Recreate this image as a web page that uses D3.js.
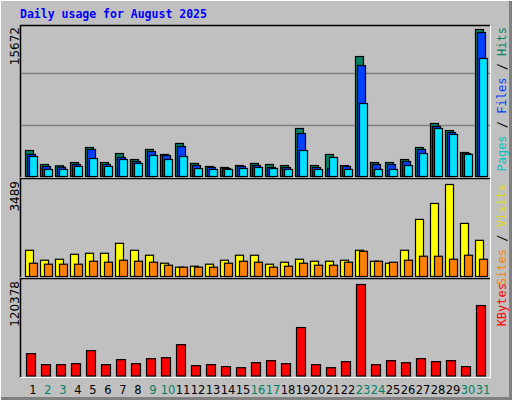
<!DOCTYPE html><html><head><script src="https://d3js.org/d3.v7.min.js"></script>
<style>body{margin:0}svg{display:block}</style></head><body><script>
const days=d3.range(1,32);
const weekend=[2,3,9,10,16,17,23,24,30,31];
const hits=[2770,1280,1140,1490,3090,1490,2450,1810,2880,2350,3520,1390,1070,960,1170,1390,1280,1170,5120,1170,2350,1170,12790,1490,1490,1810,3090,5650,4900,2560,15672];
const files=[2350,1070,990,1280,2880,1280,2030,1600,2660,2240,3200,1170,960,850,1070,1170,960,960,4580,960,850,1070,11830,1280,1280,1600,2880,5330,4690,2450,15350];
const pages=[2130,750,750,1070,1920,1070,1810,1390,2240,1810,2130,850,750,750,850,960,850,750,2770,750,2030,750,7780,750,750,1170,2450,5120,4480,2350,12580];
const visits=[995,617,654,843,881,881,1258,995,806,503,353,390,466,617,806,806,466,541,654,579,579,617,995,579,503,995,2165,2770,3489,2014,1372];
const sites=[503,466,466,466,579,541,617,579,541,428,353,353,353,503,579,541,353,390,503,428,428,541,957,579,541,617,768,768,654,806,654];
const kbytes=[29400,14900,14900,16200,33360,14900,21500,16200,22800,24100,41300,13600,14900,12300,10900,17500,20200,16200,63700,14900,10900,18900,120378,14900,20200,17500,22800,18900,20200,12300,92700];
const W=512,H=400;
const svg=d3.select("body").append("svg").attr("width",W).attr("height",H);
svg.append("rect").attr("width",W).attr("height",H).attr("fill","#c0c0c0");
svg.append("path").attr("d","M0,398.5H511M510.5,0V400").attr("stroke","#808080").attr("stroke-width",3).attr("fill","none");
svg.append("path").attr("d","M0.5,400V0.5H512").attr("stroke","#ffffff").attr("stroke-width",1).attr("fill","none");
svg.append("text").attr("x",20).attr("y",18).text("Daily usage for August 2025")
 .attr("font-family","DejaVu Sans Mono").attr("font-weight","bold").attr("font-size","11.5px").attr("fill","#0000ff");
const x=d3.scaleBand().domain(days).range([20,485]).paddingInner(0).paddingOuter(0);
function frame(y0,y1){
 svg.append("rect").attr("x",20).attr("y",y0).attr("width",470).attr("height",y1-y0).attr("fill","#c0c0c0");
 svg.append("path").attr("d",`M20.5,${y1}V${y0+0.5}H490`).attr("stroke","#000").attr("fill","none").attr("stroke-width",1.5);
 svg.append("path").attr("d",`M20,${y1-0.5}H490.5V${y0}`).attr("stroke","#fff").attr("fill","none");
}
function grid(y,max,top,base){
 [1/3,2/3].forEach(f=>{const yy=Math.round(y(max*f))+0.5;
  svg.append("line").attr("x1",21).attr("x2",490).attr("y1",yy).attr("y2",yy).attr("stroke","#808080").attr("stroke-width",1.5);});
}
function bars(data,y,off,w,color){
 svg.append("g").selectAll("rect").data(data).join("rect")
  .attr("x",(d,i)=>x(days[i])+off+0.5).attr("y",d=>y(d)+0.5).attr("width",w).attr("height",d=>y(0)-y(d))
  .attr("fill",color).attr("stroke","#000").attr("stroke-width",1.2);
}
function ylab(txt,yy){svg.append("text").attr("transform",`translate(19,${yy}) rotate(-90)`).attr("text-anchor","end")
 .attr("font-family","DejaVu Sans").attr("font-size","12px").text(txt);}
function rlab(parts,yy){const t=svg.append("text").attr("transform",`translate(506,${yy}) rotate(-90)`).attr("text-anchor","end")
 .attr("font-family","DejaVu Sans Mono").attr("font-size","12px");
 parts.forEach(p=>t.append("tspan").attr("fill",p[1]).text(p[0]));}
// top panel
frame(25,178);
const y1=d3.scaleLinear().domain([0,15672]).range([176,29]);
grid(y1,15672*1.05);
bars(hits,y1,5,8,"#008060");bars(files,y1,7,8,"#0040ff");bars(pages,y1,9,8,"#00e0ff");
ylab("15672",27);
rlab([["Pages","#00c0c0"],[" / ","#000"],["Files","#0040ff"],[" / ","#000"],["Hits","#008060"]],27);
// middle
frame(178,278);
const y2=d3.scaleLinear().domain([0,3489]).range([276,184]);
bars(visits,y2,5,8,"#ffff00");bars(sites,y2,9,8,"#ff8000");
ylab("3489",181);
rlab([["Sites","#ff8000"],[" / ","#000"],["Visits","#e0e000"]],184);
// bottom
frame(278,378);
const y3=d3.scaleLinear().domain([0,120378]).range([375.5,284]);
bars(kbytes,y3,6,9,"#ff0000");
ylab("120378",281);
rlab([["KBytes","#ff0000"]],283);
// grid lines for middle & bottom at fixed fractions
[[213,246],[313,346]].forEach(a=>a.forEach(yy=>svg.insert("line","g").attr("x1",21).attr("x2",490).attr("y1",yy+0.5).attr("y2",yy+0.5).attr("stroke","#808080").attr("stroke-width",1.5)));
// x labels
svg.append("g").selectAll("text").data(days).join("text").attr("x",d=>x(d)+13).attr("y",394).attr("text-anchor","middle")
 .attr("font-family","DejaVu Sans").attr("font-size","11.5px").attr("fill",d=>weekend.includes(d)?"#008060":"#000").text(d=>d);
</script></body></html>
